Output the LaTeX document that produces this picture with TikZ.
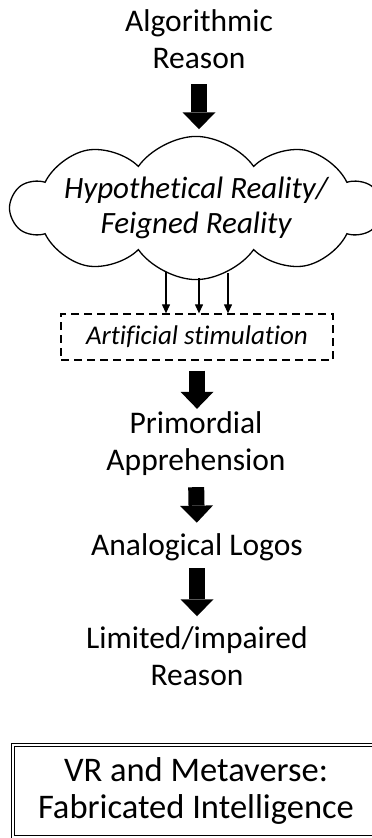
\documentclass[tikz,border=0pt]{standalone}
\usepackage{fontspec}
\setmainfont{Carlito}[Ligatures={NoCommon}]
\usetikzlibrary{shapes.symbols,arrows.meta}

\tikzset{%
  every stage/.style={
    align=center,
    inner sep=0pt,
    font=\fontsize{31.5}{37}\selectfont
  },
  fat arrow/.style={
    line width=16pt,
    -{Triangle[width=33pt,length=17pt,line width=0pt]}
  },
  thin arrow/.style={
    line width=1.2pt,
    -{Triangle[width=8pt,length=9pt]}
  },
  reality cloud/.style={
    cloud, cloud puffs=10, cloud puff arc=110, cloud ignores aspect,
    draw, line width=1.3pt,
    minimum width=364pt, minimum height=140pt,
    align=center, inner sep=0pt,
    font=\fontsize{31}{35}\selectfont\itshape
  },
  stimulus box/.style={
    draw, dash pattern=on 8pt off 5pt, line width=1.3pt,
    minimum width=272pt, minimum height=46pt,
    inner sep=0pt,
    font=\fontsize{27}{36}\selectfont\itshape
  },
  result box/.style={
    draw, double, double distance=2pt, line width=1.2pt,
    minimum width=366pt, minimum height=92pt,
    align=center, inner sep=0pt,
    font=\fontsize{34.5}{37}\selectfont
  },
}

\begin{document}
\begin{tikzpicture}[x=1pt, y=1pt]
    \useasboundingbox (0,0) rectangle (372,-838);

    \node [every stage] (algo) at (199,-39.5) {Algorithmic\\Reason};
    \node [reality cloud] (cloud) at (196,-208) {Hypothetical Reality/\\Feigned Reality};
    \node [stimulus box] (stim) at (197,-337) {Artificial stimulation};
    \node [every stage] (prim) at (196,-444) {Primordial\\Apprehension};
    \node [every stage] (analog) at (197,-547.5) {Analogical Logos};
    \node [every stage] (limit) at (197,-656) {Limited/impaired\\Reason};
    \node [result box] (result) at (196,-791) {VR and Metaverse:\\Fabricated Intelligence};

    % stimulation rays out of the cloud
    \foreach \x/\y [count=\i] in {166/-272, 199/-278, 228/-273}
      \coordinate (ray-\i) at (\x,\y);
    \foreach \i in {1,...,3}
      \draw [thin arrow] (ray-\i) -- (ray-\i |- stim.north);

    % main chain
    \draw [fat arrow, shorten <=15pt] (algo.south) -- ++(0,-60);
    \draw [fat arrow, shorten <=10pt, shorten >=3pt] (stim.south) -- (stim.south |- prim.north);
    \draw [fat arrow, shorten <=11pt, shorten >=11pt] (prim.south) -- (analog.north);
    \draw [fat arrow, shorten <=7pt, shorten >=10pt] (analog.south) -- (limit.north);
\end{tikzpicture}
\end{document}
